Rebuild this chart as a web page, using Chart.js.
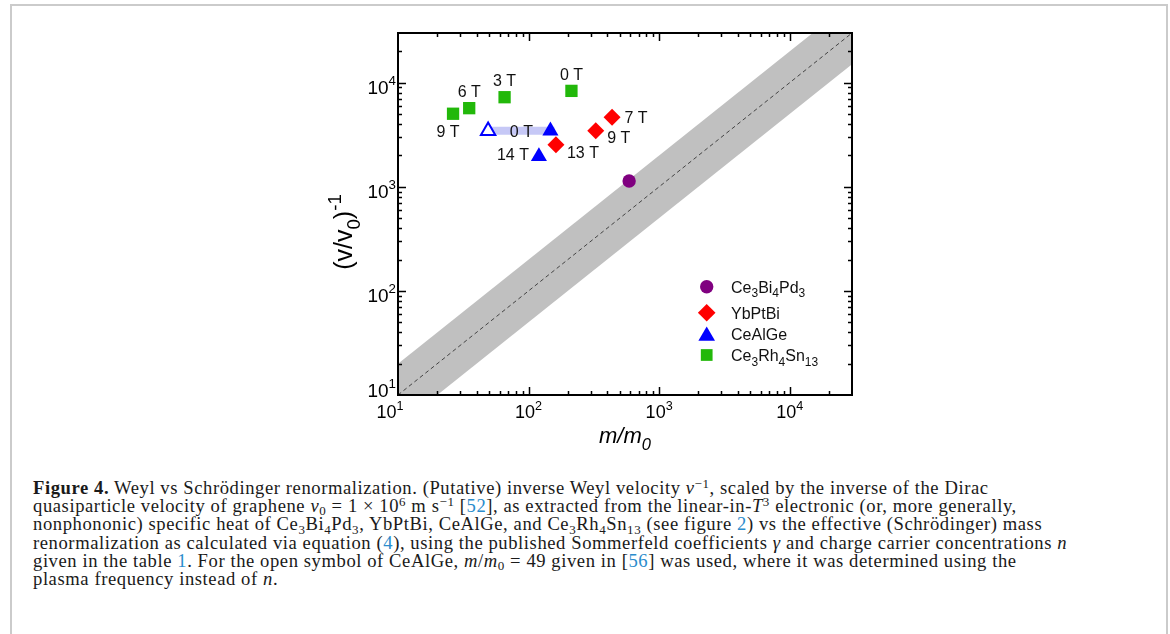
<!DOCTYPE html>
<html><head><meta charset="utf-8">
<script src="https://cdn.jsdelivr.net/npm/chart.js@4.4.1/dist/chart.umd.min.js"></script>
<style>
html,body{margin:0;padding:0;background:#fff;width:1170px;height:634px;overflow:hidden;}
#frame{position:absolute;left:10px;top:4px;width:1154px;height:700px;border:2px solid #cbcbcb;border-bottom:none;}
#chart{position:absolute;left:0;top:0;}
#cap{position:absolute;left:33px;top:479px;font-family:"Liberation Serif","DejaVu Serif",serif;font-size:18.6px;line-height:18.2px;color:#1a1a1a;white-space:nowrap;}
#cap div{height:18.2px;}
#cap sup,#cap sub{font-size:0.7em;line-height:0;position:relative;vertical-align:baseline;}
#cap sup{top:-0.5em;}
#cap sub{top:0.25em;}
#cap a{color:#2b8ccc;text-decoration:none;}
</style></head>
<body>
<div id="frame"></div>
<canvas id="chart" width="1170" height="460"></canvas>
<div id="cap">
<div><span id="l1"><b>Figure 4.</b> Weyl vs Schrödinger renormalization. (Putative) inverse Weyl velocity <i>v</i><sup>−1</sup>, scaled by the inverse of the Dirac</span></div>
<div><span>quasiparticle velocity of graphene <i>v</i><sub>0</sub> = 1 × 10<sup>6</sup> m s<sup>−1</sup> [<a>52</a>], as extracted from the linear-in-<i>T</i><sup>3</sup> electronic (or, more generally,</span></div>
<div><span>nonphononic) specific heat of Ce<sub>3</sub>Bi<sub>4</sub>Pd<sub>3</sub>, YbPtBi, CeAlGe, and Ce<sub>3</sub>Rh<sub>4</sub>Sn<sub>13</sub> (see figure <a>2</a>) vs the effective (Schrödinger) mass</span></div>
<div><span id="l4">renormalization as calculated via equation (<a>4</a>), using the published Sommerfeld coefficients <i>γ</i> and charge carrier concentrations <i>n</i></span></div>
<div><span>given in the table <a>1</a>. For the open symbol of CeAlGe, <i>m</i>/<i>m</i><sub>0</sub> = 49 given in [<a>56</a>] was used, where it was determined using the</span></div>
<div><span>plasma frequency instead of <i>n</i>.</span></div>
</div>
<script>
// ---- axis ranges & ticks ----
const xMin = 10, xMax = 30000, yMin = 10, yMax = 30000;
const xTickValues = [10, 100, 1000, 10000];
const xTickExps = ['1', '2', '3', '4'];
const yTickValues = [10, 100, 1000, 10000];
const yTickExps = ['1', '2', '3', '4'];

// ---- guide line y = x and grey band (x/2 .. 2x) ----
const guideX = [10, 30000];
const guideY = [10, 30000];
const bandUpperY = [20, 60000];
const bandLowerY = [5, 15000];

// ---- data ----
const ce3bi4pd3X = [589];
const ce3bi4pd3Y = [1135];

const ybptbiX = [436, 327, 162];
const ybptbiY = [4660, 3450, 2540];
const ybptbiLabels = ['7 T', '9 T', '13 T'];

const cealgeX = [147, 120];
const cealgeY = [3450, 1955];
const cealgeLabels = ['0 T', '14 T'];

const cealgeOpenX = [49];
const cealgeOpenY = [3450];

const rhX = [213, 65.5, 35.1, 26.4];
const rhY = [8340, 7250, 5690, 5030];
const rhLabels = ['0 T', '3 T', '6 T', '9 T'];

const connX = [49, 147];
const connY = [3450, 3450];

// ---- styling ----
const SANS = '"Liberation Sans", Arial, sans-serif';
const ybLabelOffsets = [[24, 0], [23, 6], [27, 8]];
const alLabelOffsets = [[-29, 0], [-26, -2]];
const rhLabelOffsets = [[0, -17], [0, -17], [0, -17], [-5, 17]];

const pts = (xs, ys) => xs.map((x, i) => ({x: x, y: ys[i]}));

function drawRich(ctx, parts, x, y, size, opt) {
  opt = opt || {};
  const st = opt.style || '';
  const sc = opt.scale || 0.7;
  const fontFor = m => `${st} ${m === 'n' ? size : size * sc}px ${SANS}`;
  let w = 0;
  for (const [t, m] of parts) { ctx.font = fontFor(m); w += ctx.measureText(t).width; }
  let cx = opt.align === 'right' ? x - w : opt.align === 'center' ? x - w / 2 : x;
  ctx.textAlign = 'left';
  ctx.textBaseline = 'alphabetic';
  for (const [t, m] of parts) {
    ctx.font = fontFor(m);
    const dy = m === 'b' ? size * 0.3 : m === 'p' ? -size * 0.45 : 0;
    ctx.fillText(t, cx, y + dy);
    cx += ctx.measureText(t).width;
  }
  return w;
}

const axesPlugin = {
  id: 'customAxes',
  afterDatasetsDraw(chart) {
    const ctx = chart.ctx;
    const xs = chart.scales.x, ys = chart.scales.y;
    const {left, right, top, bottom} = chart.chartArea;
    ctx.save();
    ctx.fillStyle = '#000';
    ctx.strokeStyle = '#000';
    // ticks
    ctx.lineWidth = 1.5;
    ctx.beginPath();
    for (let d = 10; d <= xMax; d *= 10) {
      for (let k = 1; k <= 9; k++) {
        const v = k * d;
        if (v > xMax) break;
        const px = Math.round(xs.getPixelForValue(v)) + 0.5;
        const len = k === 1 ? 8 : 4;
        if (px > left + 1 && px < right - 1) {
          ctx.moveTo(px, bottom); ctx.lineTo(px, bottom - len);
          ctx.moveTo(px, top); ctx.lineTo(px, top + len);
        }
      }
    }
    for (let d = 10; d <= yMax; d *= 10) {
      for (let k = 1; k <= 9; k++) {
        const v = k * d;
        if (v > yMax) break;
        const py = Math.round(ys.getPixelForValue(v)) + 0.5;
        const len = k === 1 ? 8 : 4;
        if (py > top + 1 && py < bottom - 1) {
          ctx.moveTo(left, py); ctx.lineTo(left + len, py);
          ctx.moveTo(right, py); ctx.lineTo(right - len, py);
        }
      }
    }
    ctx.stroke();
    // frame
    ctx.lineWidth = 2;
    ctx.strokeRect(left, top, right - left, bottom - top);

    // tick labels
    xTickValues.forEach((v, i) => {
      const px = xs.getPixelForValue(v) + (i === 0 ? -8 : 0);
      drawRich(ctx, [['10', 'n'], [xTickExps[i], 'p']], px, 418, 18, {align: 'center'});
    });
    yTickValues.forEach((v, i) => {
      const py = ys.getPixelForValue(v) + (i === 0 ? 2 : 11);
      drawRich(ctx, [['10', 'n'], [yTickExps[i], 'p']], 396, py, 19, {align: 'right'});
    });
    // axis titles
    drawRich(ctx, [['m/m', 'n'], ['0', 'b']], 625, 443, 22, {align: 'center', style: 'italic', scale: 0.75});
    ctx.save();
    ctx.translate(352, 232);
    ctx.rotate(-Math.PI / 2);
    drawRich(ctx, [['(v/v', 'n'], ['0', 'b'], [')', 'n'], ['-1', 'p']], 0, 0, 25, {align: 'center', scale: 0.75});
    ctx.restore();

    // point labels
    ctx.fillStyle = '#111';
    const lab = (dsIndex, labels, offsets) => {
      const meta = chart.getDatasetMeta(dsIndex);
      meta.data.forEach((el, i) => {
        ctx.font = `16px ${SANS}`;
        ctx.textAlign = 'center';
        ctx.textBaseline = 'alphabetic';
        ctx.fillText(labels[i], el.x + offsets[i][0], el.y + offsets[i][1] + 5.8);
      });
    };
    lab(1, ybptbiLabels, ybLabelOffsets);
    lab(2, cealgeLabels, alLabelOffsets);
    lab(4, rhLabels, rhLabelOffsets);

    // legend
    const legendItems = [
      {ds: 0, style: 'circle', r: 6.7, y: 286.7, ty: 286.7, parts: [['Ce', 'n'], ['3', 'b'], ['Bi', 'n'], ['4', 'b'], ['Pd', 'n'], ['3', 'b']]},
      {ds: 1, style: 'rectRot', r: 8.8, y: 312.7, ty: 312.7, parts: [['YbPtBi', 'n']]},
      {ds: 2, style: 'triangle', r: 9.6, y: 336, ty: 334, parts: [['CeAlGe', 'n']]},
      {ds: 4, style: 'rect', r: 8.3, y: 355, ty: 355, parts: [['Ce', 'n'], ['3', 'b'], ['Rh', 'n'], ['4', 'b'], ['Sn', 'n'], ['13', 'b']]}
    ];
    legendItems.forEach(it => {
      ctx.fillStyle = chart.data.datasets[it.ds].backgroundColor;
      Chart.helpers.drawPoint(ctx, {pointStyle: it.style, radius: it.r, rotation: 0, borderWidth: 0}, 706.7, it.y);
      ctx.fillStyle = '#111';
      drawRich(ctx, it.parts, 731, it.ty + 5.8, 16, {align: 'left', scale: 0.75});
    });
    ctx.restore();
  }
};

const chart = new Chart(document.getElementById('chart').getContext('2d'), {
  type: 'scatter',
  data: {
    datasets: [
      {label: 'Ce3Bi4Pd3', data: pts(ce3bi4pd3X, ce3bi4pd3Y), pointStyle: 'circle', pointRadius: 6.7,
       backgroundColor: '#800080', borderWidth: 0, order: 1},
      {label: 'YbPtBi', data: pts(ybptbiX, ybptbiY), pointStyle: 'rectRot', pointRadius: 8.5,
       backgroundColor: '#ff0000', borderWidth: 0, order: 1},
      {label: 'CeAlGe', data: pts(cealgeX, cealgeY), pointStyle: 'triangle', pointRadius: 9.3,
       backgroundColor: '#0000ff', borderWidth: 0, order: 1},
      {label: 'CeAlGe (open)', data: pts(cealgeOpenX, cealgeOpenY), pointStyle: 'triangle', pointRadius: 8.3,
       backgroundColor: '#ffffff', borderColor: '#0000ff', borderWidth: 2, order: 1},
      {label: 'Ce3Rh4Sn13', data: pts(rhX, rhY), pointStyle: 'rect', pointRadius: 8.7,
       backgroundColor: '#22b80a', borderWidth: 0, order: 1},
      {label: 'conn', type: 'line', data: pts(connX, connY), borderColor: '#c6c8f6', borderWidth: 8,
       borderCapStyle: 'square', pointRadius: 0, fill: false, order: 5},
      {label: 'guide', type: 'line', data: pts(guideX, guideY), borderColor: '#444', borderWidth: 1,
       borderDash: [4, 3], pointRadius: 0, fill: false, order: 8, clip: 0},
      {label: 'bandUpper', type: 'line', data: pts(guideX, bandUpperY), borderColor: 'rgba(0,0,0,0)', borderWidth: 0,
       backgroundColor: '#c0c0c0', fill: '+1', pointRadius: 0, order: 10, clip: 0},
      {label: 'bandLower', type: 'line', data: pts(guideX, bandLowerY), borderColor: 'rgba(0,0,0,0)', borderWidth: 0,
       pointRadius: 0, fill: false, order: 11, clip: 0}
    ]
  },
  options: {
    responsive: false,
    animation: false,
    events: [],
    layout: {padding: {left: 398, top: 33, right: 318, bottom: 65}},
    scales: {
      x: {type: 'logarithmic', min: xMin, max: xMax, display: false},
      y: {type: 'logarithmic', min: yMin, max: yMax, display: false}
    },
    plugins: {legend: {display: false}, tooltip: {enabled: false}}
  },
  plugins: [axesPlugin]
});

// adjust caption letter spacing so that line 4 spans like the reference
(function fitCaption() {
  const l4 = document.getElementById('l4');
  const w = l4.getBoundingClientRect().width;
  const n = l4.textContent.length;
  const target = 1034;
  const ls = (target - w) / n;
  document.getElementById('cap').style.letterSpacing = ls.toFixed(3) + 'px';
})();
</script>
</body></html>
